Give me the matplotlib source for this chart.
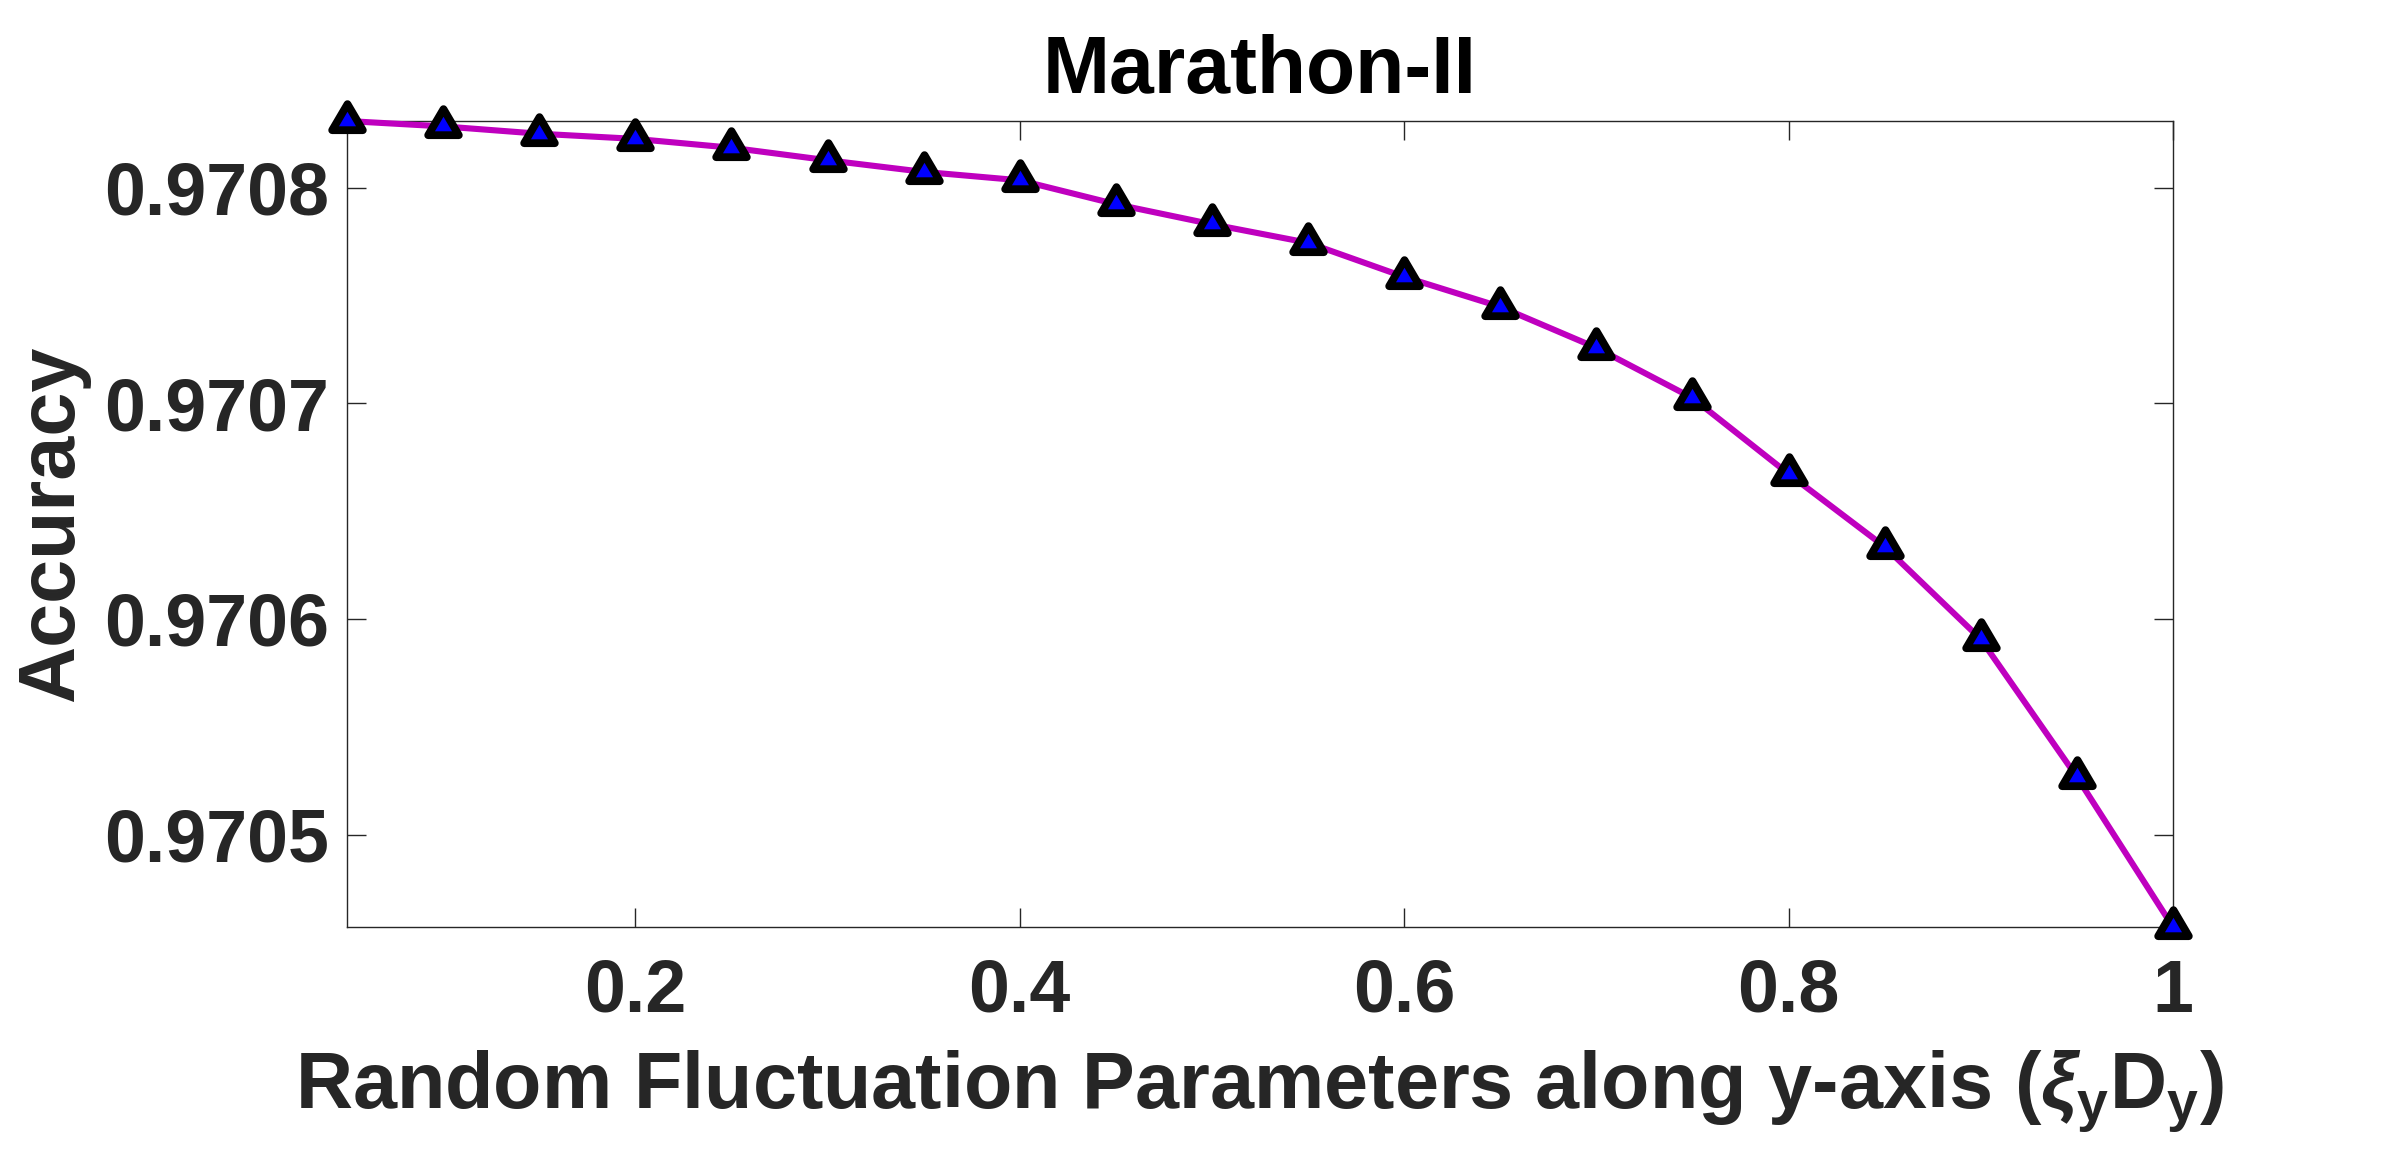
import matplotlib
matplotlib.use("Agg")
import matplotlib.pyplot as plt
from matplotlib.path import Path
from matplotlib.ticker import FuncFormatter

# ---- data ----
xi_values = [0.05, 0.10, 0.15, 0.20, 0.25, 0.30, 0.35, 0.40, 0.45, 0.50,
             0.55, 0.60, 0.65, 0.70, 0.75, 0.80, 0.85, 0.90, 0.95, 1.00]
accuracy = [0.9708310, 0.9708285, 0.9708251, 0.9708227, 0.9708186,
            0.9708128, 0.9708074, 0.9708035, 0.9707924, 0.9707831,
            0.9707745, 0.9707587, 0.9707448, 0.9707258, 0.9707025,
            0.9706673, 0.9706335, 0.9705906, 0.9705267, 0.9704571]
x_ticks = [0.2, 0.4, 0.6, 0.8, 1.0]
y_ticks = [0.9705, 0.9706, 0.9707, 0.9708]
title_text = "Marathon-II"
x_label = r"Random Fluctuation Parameters along y-axis ($\xi_{\mathbf{y}}\mathbf{D}_{\mathbf{y}}$)"
y_label = "Accuracy"

# ---- style ----
plt.rcParams['font.family'] = ['Liberation Sans', 'DejaVu Sans']
plt.rcParams['font.weight'] = 'bold'
plt.rcParams['mathtext.fontset'] = 'custom'
plt.rcParams['mathtext.rm'] = 'Liberation Sans:bold'
plt.rcParams['mathtext.bf'] = 'Liberation Sans:bold'
plt.rcParams['mathtext.it'] = 'Liberation Sans:italic'

text_color = '#262626'

fig = plt.figure(figsize=(24, 11.71), dpi=100)
ax = fig.add_axes([347/2400, 1 - 927/1171, (2173-347)/2400, (927-121)/1171])

# MATLAB-like triangle centered on its centroid
w, h = 1.0, 0.85
tri = Path([(0, 2*h/3), (-w/2, -h/3), (w/2, -h/3), (0, 2*h/3)],
           [Path.MOVETO, Path.LINETO, Path.LINETO, Path.CLOSEPOLY])

ax.plot(xi_values, accuracy, color='#BF00BF', linewidth=4.4,
        marker=tri, markersize=25, markerfacecolor='#0000FF',
        markeredgecolor='black', markeredgewidth=5.6, zorder=3,
        clip_on=False)

ax.set_xlim(min(xi_values), max(xi_values))
ax.set_ylim(min(accuracy), max(accuracy))
ax.set_xticks(x_ticks)
ax.set_yticks(y_ticks)
ax.xaxis.set_major_formatter(FuncFormatter(lambda v, p: f"{v:g}"))
ax.yaxis.set_major_formatter(FuncFormatter(lambda v, p: f"{v:.4f}"))

ax.tick_params(axis='both', which='major', direction='in', length=13.5,
               width=1.0, color=text_color, labelcolor=text_color,
               labelsize=53, top=True, right=True)
ax.tick_params(axis='x', pad=22)
ax.tick_params(axis='y', pad=13)
for lab in ax.get_xticklabels() + ax.get_yticklabels():
    lab.set_fontweight('bold')

for sp in ax.spines.values():
    sp.set_color(text_color)
    sp.set_linewidth(1.0)

ax.set_title(title_text, fontsize=58, fontweight='bold', color='black', pad=20)
ax.set_xlabel(x_label, fontsize=57, fontweight='bold', color=text_color, labelpad=16)
ax.set_ylabel(y_label, fontsize=57, fontweight='bold', color=text_color, labelpad=10)

fig.savefig("out.png", dpi=100, facecolor='white')
